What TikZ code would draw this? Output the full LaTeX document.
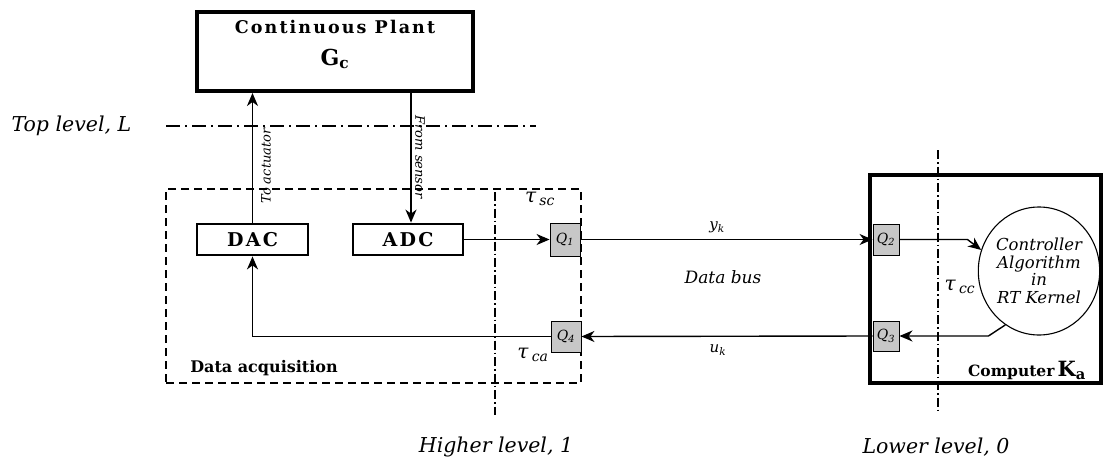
\documentclass[tikz,border=0pt]{standalone}
\usepackage{fontspec}
\setmainfont{DejaVu Serif}
\usetikzlibrary{arrows.meta,shapes.geometric}
\begin{document}
\begin{tikzpicture}[x=1pt,y=-1pt,
  heavybox/.style={draw, line width=2.8pt, inner sep=0pt, minimum height=31pt,
    font=\fontsize{19}{19}\selectfont\bfseries\addfontfeature{LetterSpace=12}},
  qbox/.style={draw, line width=0.9pt, fill=black!22, inner sep=0pt,
    font=\fontsize{14}{14}\selectfont\itshape},
  conn/.style={line width=1.4pt, -{Stealth[length=13pt,width=11pt,inset=4pt]}},
  lvl/.style={line width=1.1pt, dash pattern=on 14pt off 5pt on 2pt off 5pt},
  vlvl/.style={line width=1.1pt, dash pattern=on 9pt off 3pt on 1.5pt off 3pt},
  lvllabel/.style={font=\fontsize{20.5}{20.5}\selectfont\itshape},
  small/.style={font=\fontsize{15}{15}\selectfont\itshape},
  taulbl/.style={font=\fontsize{20}{20}\selectfont\itshape},
  sidelbl/.style={font=\fontsize{13}{13}\selectfont\itshape},
]
\useasboundingbox (0,0) rectangle (1103,458);

% frames
\node[draw, line width=1.2pt, dash pattern=on 8pt off 5pt, minimum width=415pt, minimum height=194pt, inner sep=0pt] (daq) at (373.5,286) {};
\node[draw, line width=4.5pt, minimum width=231pt, minimum height=208pt, inner sep=0pt] (comp) at (985.5,279) {};
\node[draw, line width=4pt, minimum width=276pt, minimum height=79pt, inner sep=0pt] (plant) at (335,51.5) {};
\node[align=center, anchor=north, inner sep=0pt] (planttxt) at (335,20)
  {{\fontsize{17.5}{17.5}\selectfont\bfseries\addfontfeature{LetterSpace=12}Continuous Plant}\\[14pt]
   {\fontsize{22}{22}\selectfont\bfseries G\textsubscript{c}}};

% level lines
\coordinate (tlA) at (166,126);
\coordinate (tlB) at (536,126);
\draw[lvl] (tlA) -- (tlB);
\coordinate (hlA) at (495,192);
\coordinate (hlB) at (495,415);
\draw[vlvl] (hlA) -- (hlB);
\coordinate (llA) at (938,150);
\coordinate (llB) at (938,413);
\draw[vlvl] (llA) -- (llB);

% blocks
\node[heavybox, minimum width=111pt] (dac) at (252.5,239.5) {DAC};
\node[heavybox, minimum width=110pt] (adc) at (408,239.5) {ADC};
\node[qbox, minimum width=30pt, minimum height=33pt] (q1) at (565,239.5) {Q\textsubscript{1}};
\node[qbox, minimum width=30pt, minimum height=31pt] (q4) at (566,336.5) {Q\textsubscript{4}};
\node[qbox, minimum width=26pt, minimum height=31pt] (q2) at (886,239.5) {Q\textsubscript{2}};
\node[qbox, minimum width=26pt, minimum height=30pt] (q3) at (886,336) {Q\textsubscript{3}};
\node[draw, ellipse, line width=1.1pt, minimum width=104pt, minimum height=128pt, inner sep=0pt,
  align=center, font=\fontsize{16.5}{17.5}\selectfont\itshape] (ctrl) at (1039,271)
  {Controller\\Algorithm\\in\\RT Kernel};

% connectors
\draw[conn] (dac.north) -- (dac.north |- plant.south);
\draw[conn] ([xshift=3pt]adc.north |- plant.south) -- ([xshift=3pt]adc.north);
\draw[conn] (adc.east) -- (q1.west);
\draw[conn] (q1.east) -- (q2.west);
\draw[conn] (q2.east) -- ++(68,0) -- (ctrl.160);
\draw[conn] (ctrl.238) -- ([xshift=89pt]q3.east) -- (q3.east);
\draw[conn] (q3.west) -- (q4.east);
\draw[conn] (q4.west) -| (dac.south);

% labels
\node[lvllabel, anchor=west] (tll) at (8,126) {Top level, L};
\node[lvllabel] (hll) at (496,447) {Higher level, 1};
\node[lvllabel] (lll) at (936,447) {Lower level, 0};
\node[sidelbl, rotate=90] (toact) at (266,166) {To actuator};
\node[sidelbl, rotate=-90] (fromsen) at (420,157) {From sensor};
\node[taulbl] (tsc) at (540,199) {τ\,\textsubscript{sc}};
\node[taulbl] (tcc) at (960,287) {τ\,\textsubscript{cc}};
\node[taulbl] (tca) at (533,355) {τ\,\textsubscript{ca}};
\node[small] (yk) at (717,227) {y\textsubscript{k}};
\node[small] (uk) at (718,350) {u\textsubscript{k}};
\node[font=\fontsize{17}{17}\selectfont\itshape] (bus) at (723,277) {Data bus};
\node[font=\fontsize{16}{16}\selectfont\bfseries] (daqlbl) at (264,368) {Data acquisition};
\node[inner sep=0pt] (complbl) at (1027,370)
  {{\fontsize{15.5}{15.5}\selectfont\bfseries Computer} {\fontsize{21}{21}\selectfont\bfseries K\textsubscript{a}}};
\end{tikzpicture}
\end{document}
